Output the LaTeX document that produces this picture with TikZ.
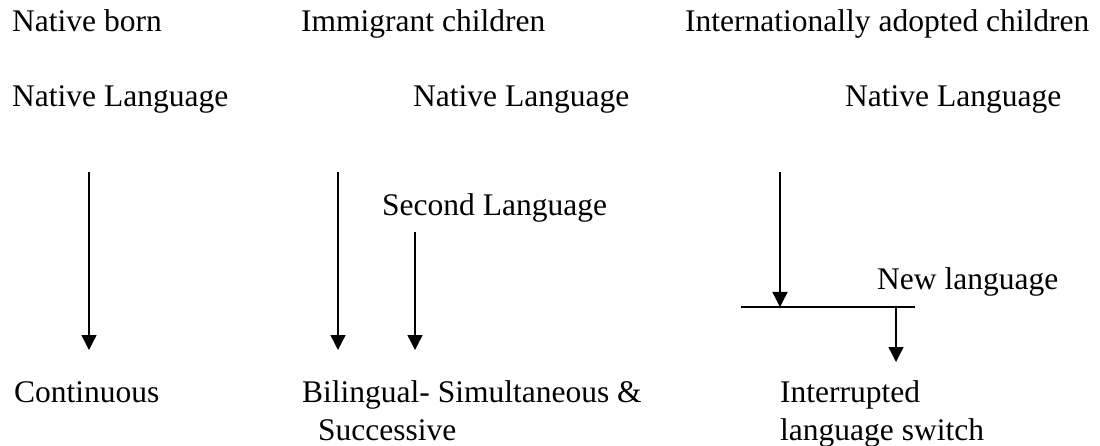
\documentclass[tikz,border=0pt]{standalone}
\usepackage{fontspec}
\setmainfont{Liberation Serif}
\usetikzlibrary{arrows.meta}
\begin{document}
\begin{tikzpicture}[x=1pt,y=-1pt,
  lbl/.style={anchor=base west,inner sep=0pt,font=\fontsize{31.5}{38}\selectfont},
  arr/.style={line width=1.4pt,-{Triangle[width=15pt,length=15pt]}},
  ln/.style={line width=1.4pt}]
\useasboundingbox (0,0) rectangle (1100,446);
\node[lbl] (nb) at (12,32) {Native born};
\node[lbl] (ic) at (301,32) {Immigrant children};
\node[lbl] (iac) at (685,32) {Internationally adopted children};
\node[lbl] (nl1) at (12,107) {Native Language};
\node[lbl] (nl2) at (413,107) {Native Language};
\node[lbl] (nl3) at (845,107) {Native Language};
\node[lbl] (sl) at (382,216) {Second Language};
\node[lbl] (new) at (877,290) {New language};
\node[lbl] (cont) at (14,402) {Continuous};
\node[lbl,align=left] (bil) at (302,440) {Bilingual- Simultaneous \&\\\hspace*{16pt}Successive};
\node[lbl,align=left] (int) at (780,440) {Interrupted\\language switch};
\coordinate (a1s) at (89,172); \coordinate (a1e) at (89,350);
\coordinate (a2s) at (338,172); \coordinate (a2e) at (338,350);
\coordinate (a3s) at (415,232); \coordinate (a3e) at (415,350);
\coordinate (a4s) at (780,172); \coordinate (a4e) at (780,307);
\coordinate (hl) at (741,307); \coordinate (hr) at (915,307);
\coordinate (a5s) at (896,307); \coordinate (a5e) at (896,362);
\draw[arr] (a1s) -- (a1e);
\draw[arr] (a2s) -- (a2e);
\draw[arr] (a3s) -- (a3e);
\draw[arr] (a4s) -- (a4e);
\draw[ln] (hl) -- (hr);
\draw[arr] (a5s) -- (a5e);
\end{tikzpicture}
\end{document}
